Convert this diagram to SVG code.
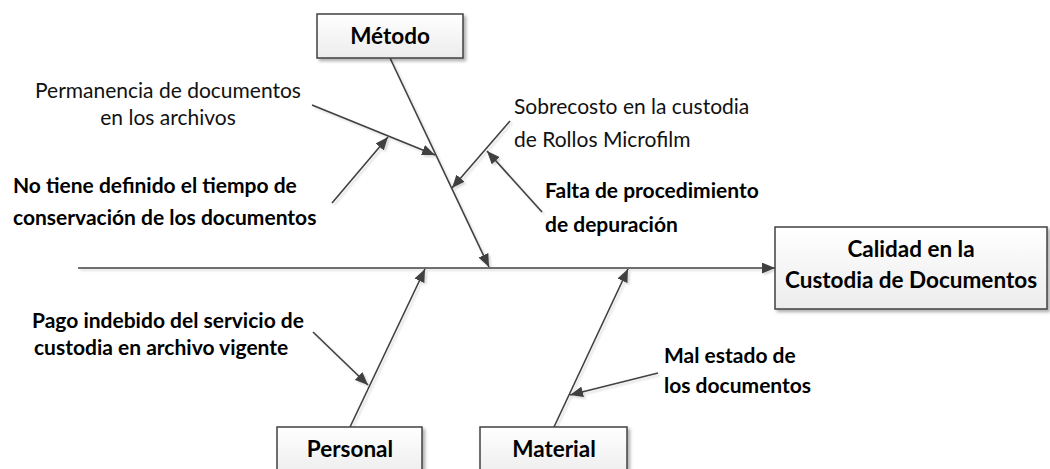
<svg xmlns="http://www.w3.org/2000/svg" width="1050" height="469" viewBox="0 0 1050 469">
<style>
.b{fill:url(#g);stroke:#404040;stroke-width:1.5}
.c{stroke:#404040;stroke-width:1.6;fill:none;marker-end:url(#ah)}
.tb{font-family:Lato,"Liberation Sans",sans-serif;font-size:21px;font-weight:bold;fill:#000}
.tr{font-family:Lato,"Liberation Sans",sans-serif;font-size:21px;font-weight:normal;fill:#111}
.bx{font-size:22.5px}
</style>
<defs>
<linearGradient id="g" x1="0" y1="0" x2="0" y2="1"><stop offset="0" stop-color="#ffffff"/><stop offset="1" stop-color="#ececec"/></linearGradient>
<filter id="sh" x="-10%" y="-10%" width="130%" height="140%"><feDropShadow dx="2.5" dy="2.5" stdDeviation="1.5" flood-color="#000" flood-opacity="0.3"/></filter>
<filter id="ls" x="-10%" y="-10%" width="130%" height="130%"><feDropShadow dx="2" dy="2" stdDeviation="1" flood-color="#000" flood-opacity="0.15"/></filter>
<marker id="ah" viewBox="0 0 12 10" refX="12" refY="5" markerWidth="13" markerHeight="11" markerUnits="userSpaceOnUse" orient="auto"><path d="M0,0 L12,5 L0,10 Z" fill="#404040"/></marker>
</defs>
<g id="connectors" filter="url(#ls)">
<line class="c" x1="78" y1="268" x2="775" y2="268"/>
<line class="c" x1="390" y1="58" x2="489" y2="267"/>
<line class="c" x1="312" y1="105" x2="435" y2="155"/>
<line class="c" x1="332" y1="203" x2="388" y2="137"/>
<line class="c" x1="510" y1="121" x2="452" y2="188"/>
<line class="c" x1="542" y1="212" x2="487" y2="151"/>
<line class="c" x1="350" y1="427" x2="425" y2="269"/>
<line class="c" x1="313" y1="332" x2="368" y2="385"/>
<line class="c" x1="554" y1="427" x2="628" y2="269"/>
<line class="c" x1="658" y1="373" x2="570" y2="395"/>
</g>
<g id="metodo">
<rect class="b" x="317" y="14" width="146" height="44" filter="url(#sh)"/>
<text class="tb bx" x="390" y="44" text-anchor="middle">Método</text>
</g>
<g id="efecto">
<rect class="b" x="775" y="227" width="272" height="82" filter="url(#sh)"/>
<text class="tb bx" x="911" y="257" text-anchor="middle">Calidad en la</text>
<text class="tb bx" x="911" y="288" text-anchor="middle">Custodia de Documentos</text>
</g>
<g id="personal">
<rect class="b" x="277" y="427" width="145" height="50" filter="url(#sh)"/>
<text class="tb bx" x="350" y="457" text-anchor="middle">Personal</text>
</g>
<g id="material">
<rect class="b" x="480" y="427" width="147" height="50" filter="url(#sh)"/>
<text class="tb bx" x="554" y="457" text-anchor="middle">Material</text>
</g>
<g id="permanencia">
<text class="tr" x="168" y="98" text-anchor="middle">Permanencia de documentos</text>
<text class="tr" x="168" y="125" text-anchor="middle">en los archivos</text>
</g>
<g id="no-tiene">
<text class="tb" x="13" y="193">No tiene definido el tiempo de</text>
<text class="tb" x="13" y="225">conservación de los documentos</text>
</g>
<g id="sobrecosto">
<text class="tr" x="514" y="114">Sobrecosto en la custodia</text>
<text class="tr" x="514" y="147">de Rollos Microfilm</text>
</g>
<g id="falta">
<text class="tb" x="545" y="198">Falta de procedimiento</text>
<text class="tb" x="545" y="232">de depuración</text>
</g>
<g id="pago">
<text class="tb" x="32" y="328">Pago indebido del servicio de</text>
<text class="tb" x="34" y="355">custodia en archivo vigente</text>
</g>
<g id="mal-estado">
<text class="tb" x="664" y="363">Mal estado de</text>
<text class="tb" x="664" y="393">los documentos</text>
</g>
</svg>
